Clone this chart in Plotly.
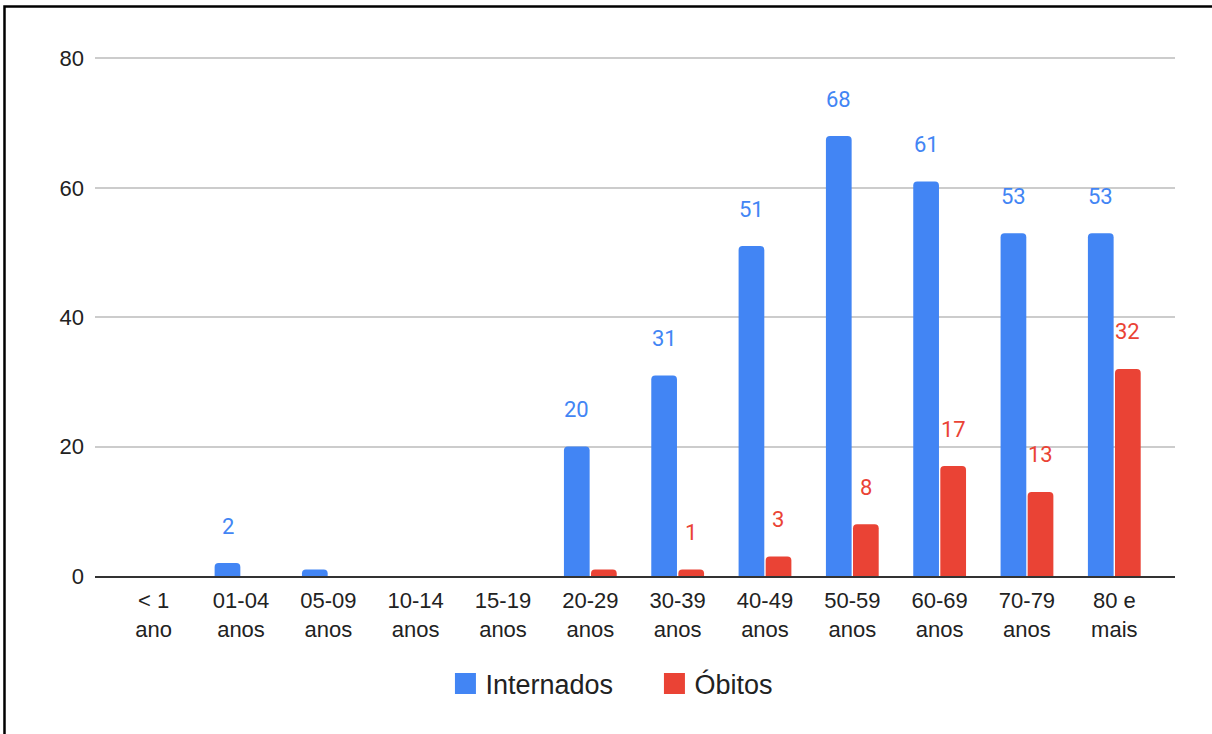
import plotly.graph_objects as go

categories = ["< 1<br>ano", "01-04<br>anos", "05-09<br>anos", "10-14<br>anos", "15-19<br>anos",
              "20-29<br>anos", "30-39<br>anos", "40-49<br>anos", "50-59<br>anos", "60-69<br>anos",
              "70-79<br>anos", "80 e<br>mais"]
internados = [0, 2, 1, 0, 0, 20, 31, 51, 68, 61, 53, 53]
obitos = [0, 0, 0, 0, 0, 1, 1, 3, 8, 17, 13, 32]
# value labels as shown in the reference (some small ones are hidden there)
internados_labels = ["", "2", "", "", "", "20", "31", "51", "68", "61", "53", "53"]
obitos_labels = ["", "", "", "", "", "", "1", "3", "8", "17", "13", "32"]
series_names = ["Internados", "Óbitos"]

BLUE = "#4285F4"
RED = "#EA4335"

fig = go.Figure()
fig.add_trace(go.Bar(name=series_names[0], x=categories, y=internados, showlegend=False,
                     marker=dict(color=BLUE, cornerradius=4, line=dict(width=0))))
fig.add_trace(go.Bar(name=series_names[1], x=categories, y=obitos, showlegend=False,
                     marker=dict(color=RED, cornerradius=4, line=dict(width=0))))
# legend entries with larger square swatches
for nm, col in zip(series_names, [BLUE, RED]):
    fig.add_trace(go.Scatter(name=nm, x=[None], y=[None], mode="markers", showlegend=True,
                             marker=dict(symbol="square", size=16, color=col,
                                         line=dict(color=col, width=5))))

annotations = []
for c, v, t in zip(categories, internados, internados_labels):
    if t:
        annotations.append(dict(x=c, y=v, text=t, showarrow=False, xref="x", yref="y",
                                xshift=-13.5, yshift=37,
                                font=dict(family="Roboto", size=22, color=BLUE)))
for c, v, t in zip(categories, obitos, obitos_labels):
    if t:
        annotations.append(dict(x=c, y=v, text=t, showarrow=False, xref="x", yref="y",
                                xshift=13.5, yshift=37,
                                font=dict(family="Roboto", size=22, color=RED)))

fig.update_layout(
    width=1212, height=734,
    margin=dict(l=95, r=37, t=52, b=158),
    paper_bgcolor="white", plot_bgcolor="white",
    barmode="group", bargap=0.38, bargroupgap=0.05,
    font=dict(family="Liberation Sans, Arial", size=22, color="#222222"),
    showlegend=True,
    legend=dict(orientation="h", x=0.518, y=-0.206, xanchor="center", yanchor="middle",
                font=dict(family="Liberation Sans, Arial", size=27, color="#222222"),
                itemsizing="trace", traceorder="normal",
                entrywidth=164, entrywidthmode="pixels"),
    annotations=annotations,
    shapes=[dict(type="rect", xref="paper", yref="paper",
                 x0=-0.0838, x1=1.05, y0=-0.35, y1=1.0868,
                 line=dict(color="black", width=2.5), fillcolor="rgba(0,0,0,0)", layer="above")],
)
fig.update_xaxes(type="category", range=[-0.672, 11.695], showgrid=False,
                 showline=True, linecolor="#333333", linewidth=1.5,
                 ticks="", ticklabelstandoff=4, tickfont=dict(size=22, color="#222222"))
fig.update_yaxes(range=[0, 81], tickvals=[0, 20, 40, 60, 80], showgrid=True,
                 gridcolor="#cccccc", gridwidth=1.5,
                 zeroline=False, showline=False, ticks="", ticklabelstandoff=10,
                 tickfont=dict(size=22, color="#222222"))

fig.write_html("out.html", post_script="document.body.style.margin='0';",
               config={"displayModeBar": False})
